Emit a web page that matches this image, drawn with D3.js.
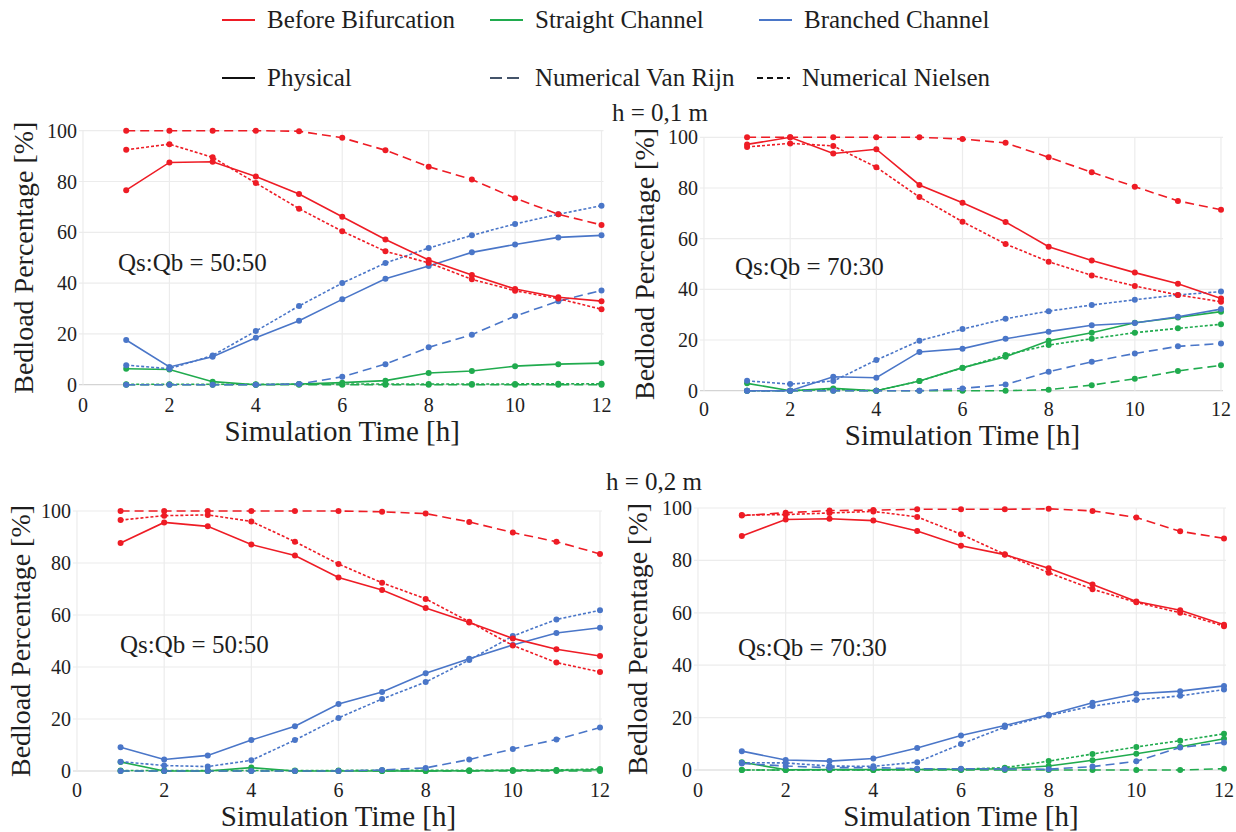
<!DOCTYPE html>
<meta charset="utf-8">
<body style="margin:0;background:#fff">
<svg width="1236" height="832"></svg>
<script src="https://cdn.jsdelivr.net/npm/d3@7"></script>
<script>
// hours
var hours = [1,2,3,4,5,6,7,8,9,10,11,12];
var xTicks = [0,2,4,6,8,10,12];
var yTicks = [0,20,40,60,80,100];

// h = 0,1 m , Qs:Qb = 50:50
var p1_beforePhys    = [76.6,87.5,87.8,82.0,75.1,66.1,57.2,49.1,43.2,37.7,34.4,32.9];
var p1_beforeVanRijn = [100,100,100,100,99.8,97.2,92.3,85.8,80.8,73.4,67.1,62.9];
var p1_beforeNielsen = [92.5,94.7,89.5,79.4,69.3,60.4,52.5,48.0,41.5,37.0,33.9,29.7];
var p1_straightPhys    = [6.3,6.0,1.2,0,0.3,0.8,1.6,4.6,5.4,7.3,8.1,8.5];
var p1_straightVanRijn = [0,0,0,0,0,0,0,0,0,0,0,0];
var p1_straightNielsen = [0.2,0.2,0.2,0.2,0.2,0.3,0.3,0.3,0.3,0.3,0.4,0.4];
var p1_branchPhys    = [17.6,7.0,11.0,18.5,25.2,33.6,41.7,46.7,52.1,55.2,58.0,58.8];
var p1_branchVanRijn = [0,0,0,0,0.3,3.1,8.1,14.7,19.7,27.0,32.9,37.1];
var p1_branchNielsen = [7.7,6.3,11.5,21.1,31.0,40.0,47.9,53.8,58.8,63.3,67.1,70.5];

// h = 0,1 m , Qs:Qb = 70:30
var p2_beforePhys    = [97.2,100,93.6,95.3,81.2,74.2,66.6,56.8,51.4,46.6,42.2,36.4];
var p2_beforeVanRijn = [100,100,100,100,100,99.3,97.8,92.1,86.2,80.5,74.9,71.4];
var p2_beforeNielsen = [96.2,97.6,96.6,88.2,76.4,66.7,57.9,50.9,45.5,41.3,37.8,35.1];
var p2_straightPhys    = [2.9,0,0.9,0,3.8,9.1,13.4,19.7,22.9,26.8,28.9,31.2];
var p2_straightVanRijn = [0,0,0,0,0,0,0,0.4,2.2,4.7,7.8,10.0];
var p2_straightNielsen = [0,0,0.5,0,3.8,9.0,14.1,18.0,20.5,22.9,24.6,26.2];
var p2_branchPhys    = [0,0,5.5,5.1,15.3,16.6,20.5,23.3,25.8,26.7,29.2,32.2];
var p2_branchVanRijn = [0,0,0,0,0,0.9,2.4,7.5,11.4,14.7,17.5,18.6];
var p2_branchNielsen = [3.9,2.6,3.8,12.1,19.7,24.3,28.4,31.4,33.8,35.9,37.8,39.1];

// h = 0,2 m , Qs:Qb = 50:50
var p3_beforePhys    = [87.7,95.6,94.1,87.1,82.9,74.4,69.6,62.7,57.1,51.0,46.8,44.2];
var p3_beforeVanRijn = [100,100,100,100,100,100,99.7,99.0,95.8,91.7,88.2,83.5];
var p3_beforeNielsen = [96.5,98.2,98.5,96.0,88.2,79.6,72.4,66.2,57.4,48.3,41.7,38.1];
var p3_straightPhys    = [3.5,0,0,1.3,0,0,0,0,0.1,0.3,0.3,0.5];
var p3_straightVanRijn = [0,0,0,0,0,0,0,0,0,0,0,0];
var p3_straightNielsen = [0.2,0.2,0.2,0.2,0.2,0.2,0.3,0.3,0.3,0.3,0.4,0.8];
var p3_branchPhys    = [9.1,4.4,6.0,11.9,17.2,25.8,30.4,37.6,43.2,48.5,53.1,55.1];
var p3_branchVanRijn = [0,0,0,0,0,0,0.4,1.2,4.4,8.5,12.1,16.7];
var p3_branchNielsen = [3.6,2.1,1.7,4.1,11.9,20.4,27.7,34.2,42.7,51.9,58.3,61.8];

// h = 0,2 m , Qs:Qb = 70:30
var p4_beforePhys    = [89.3,95.6,95.9,95.2,91.2,85.6,82.2,77.0,70.8,64.3,61.0,55.4];
var p4_beforeVanRijn = [97.1,98.2,99.0,99.2,99.5,99.5,99.5,99.7,98.9,96.4,91.1,88.4];
var p4_beforeNielsen = [97.3,97.5,98.1,98.7,96.6,90.0,82.3,75.3,69.0,64.0,60.0,54.9];
var p4_straightPhys    = [3.0,0.1,0.2,0.2,0.2,0.2,0.5,1.5,3.7,6.2,8.9,11.9];
var p4_straightVanRijn = [0,0,0,0,0,0,0,0,0,0,0,0.5];
var p4_straightNielsen = [0,0,0,0,0.2,0.3,0.9,3.4,6.1,8.8,11.2,13.8];
var p4_branchPhys    = [7.2,3.8,3.4,4.4,8.4,13.2,17.0,21.1,25.7,29.1,30.1,32.1];
var p4_branchVanRijn = [2.5,1.5,0.9,0.9,0.5,0.5,0.4,0.3,1.3,3.3,8.6,10.5];
var p4_branchNielsen = [2.8,2.7,1.5,1.4,3.0,9.9,16.4,20.8,24.4,26.7,28.3,30.7];

var ratioLabels = ["Qs:Qb = 50:50", "Qs:Qb = 70:30", "Qs:Qb = 50:50", "Qs:Qb = 70:30"];
var depthTitles = ["h = 0,1 m", "h = 0,2 m"];

var red = "#ee1c25", green = "#20ab4e", blue = "#4a76c8";
var dashVR = "9,5", dashNi = "3,2";

function seriesOf(bp, bv, bn, sp, sv, sn, rp, rv, rn) {
  // drawn back to front
  return [
    {v: sv, c: green, d: dashVR}, {v: sn, c: green, d: dashNi}, {v: sp, c: green, d: null},
    {v: rv, c: blue, d: dashVR},  {v: rn, c: blue, d: dashNi},  {v: rp, c: blue, d: null},
    {v: bv, c: red, d: dashVR},   {v: bn, c: red, d: dashNi},   {v: bp, c: red, d: null}
  ];
}

var panels = [
  {l: 83, r: 601.5, t: 130.7, b: 384.7, tickY: 412, titleY: 441, yTitleX: 33, tx: 118, ty: 271,
   s: seriesOf(p1_beforePhys,p1_beforeVanRijn,p1_beforeNielsen,p1_straightPhys,p1_straightVanRijn,p1_straightNielsen,p1_branchPhys,p1_branchVanRijn,p1_branchNielsen)},
  {l: 704, r: 1221, t: 137.3, b: 390.7, tickY: 416, titleY: 445, yTitleX: 654, tx: 735, ty: 275,
   s: seriesOf(p2_beforePhys,p2_beforeVanRijn,p2_beforeNielsen,p2_straightPhys,p2_straightVanRijn,p2_straightNielsen,p2_branchPhys,p2_branchVanRijn,p2_branchNielsen)},
  {l: 77, r: 600, t: 511, b: 771, tickY: 797, titleY: 826, yTitleX: 30, tx: 120, ty: 653,
   s: seriesOf(p3_beforePhys,p3_beforeVanRijn,p3_beforeNielsen,p3_straightPhys,p3_straightVanRijn,p3_straightNielsen,p3_branchPhys,p3_branchVanRijn,p3_branchNielsen)},
  {l: 698, r: 1224, t: 508, b: 770, tickY: 797, titleY: 826, yTitleX: 647, tx: 738, ty: 656,
   s: seriesOf(p4_beforePhys,p4_beforeVanRijn,p4_beforeNielsen,p4_straightPhys,p4_straightVanRijn,p4_straightNielsen,p4_branchPhys,p4_branchVanRijn,p4_branchNielsen)}
];

var svg = d3.select("svg");

// every text goes through here; the family is set inline with priority
function label(parent, size) {
  return parent.append("text")
    .style("font-family", "'Liberation Serif'", "important")
    .style("font-size", size + "px")
    .style("fill", "#1e1e1e");
}

panels.forEach(function(p, i) {
  var x = d3.scaleLinear().domain([0, 12]).range([p.l, p.r]);
  var y = d3.scaleLinear().domain([0, 100]).range([p.b, p.t]);
  var g = svg.append("g");

  // grid
  g.selectAll(".hg").data(yTicks).enter().append("line")
    .attr("x1", p.l - 4).attr("x2", p.r + 2)
    .attr("y1", function(d) { return y(d); }).attr("y2", function(d) { return y(d); })
    .style("stroke", function(d) { return d == 0 ? "#d4d4d4" : "#ececec"; })
    .style("stroke-width", 1.2);
  g.selectAll(".vg").data(xTicks).enter().append("line")
    .attr("x1", function(d) { return x(d); }).attr("x2", function(d) { return x(d); })
    .attr("y1", p.t).attr("y2", p.b)
    .style("stroke", "#ececec").style("stroke-width", 1.2);

  // tick labels
  yTicks.forEach(function(d) {
    label(g, 20).attr("x", p.l - 6).attr("y", y(d) + 7)
      .attr("text-anchor", "end").text(d);
  });
  xTicks.forEach(function(d) {
    label(g, 20).attr("x", x(d)).attr("y", p.tickY)
      .attr("text-anchor", "middle").text(d);
  });

  // axis titles
  label(g, 29).attr("x", (p.l + p.r) / 2).attr("y", p.titleY)
    .attr("text-anchor", "middle").text("Simulation Time [h]");
  label(g, 28)
    .attr("transform", "translate(" + p.yTitleX + "," + ((p.t + p.b) / 2) + ") rotate(-90)")
    .attr("text-anchor", "middle").text("Bedload Percentage [%]");

  label(g, 25).attr("x", p.tx).attr("y", p.ty).text(ratioLabels[i]);

  var line = d3.line().x(function(d, j) { return x(hours[j]); }).y(function(d) { return y(d); });

  p.s.forEach(function(s) {
    g.append("path").attr("d", line(s.v))
      .style("fill", "none").style("stroke", s.c).style("stroke-width", 1.6)
      .style("stroke-dasharray", s.d);
    g.selectAll(null).data(s.v).enter().append("circle")
      .attr("cx", function(d, j) { return x(hours[j]); })
      .attr("cy", function(d) { return y(d); })
      .attr("r", 3).style("fill", s.c);
  });
});

// depth titles
label(svg, 25).attr("x", 660).attr("y", 121).attr("text-anchor", "middle").text(depthTitles[0]);
label(svg, 25).attr("x", 654).attr("y", 490).attr("text-anchor", "middle").text(depthTitles[1]);

// legend
var legendItems = [
  {x: 222, y: 20, c: red, d: null, t: "Before Bifurcation"},
  {x: 490, y: 20, c: green, d: null, t: "Straight Channel"},
  {x: 759, y: 20, c: blue, d: null, t: "Branched Channel"},
  {x: 222, y: 78, c: "#111", d: null, t: "Physical"},
  {x: 490, y: 78, c: "#44546a", d: "12,5", t: "Numerical Van Rijn"},
  {x: 757, y: 78, c: "#111", d: "6,4", t: "Numerical Nielsen"}
];
var lg = svg.append("g");
legendItems.forEach(function(it) {
  lg.append("line").attr("x1", it.x).attr("x2", it.x + 33)
    .attr("y1", it.y).attr("y2", it.y)
    .style("stroke", it.c).style("stroke-width", 2).style("stroke-dasharray", it.d);
  label(lg, 25).attr("x", it.x + 45).attr("y", it.y + 8).text(it.t);
});
</script>
</body>
